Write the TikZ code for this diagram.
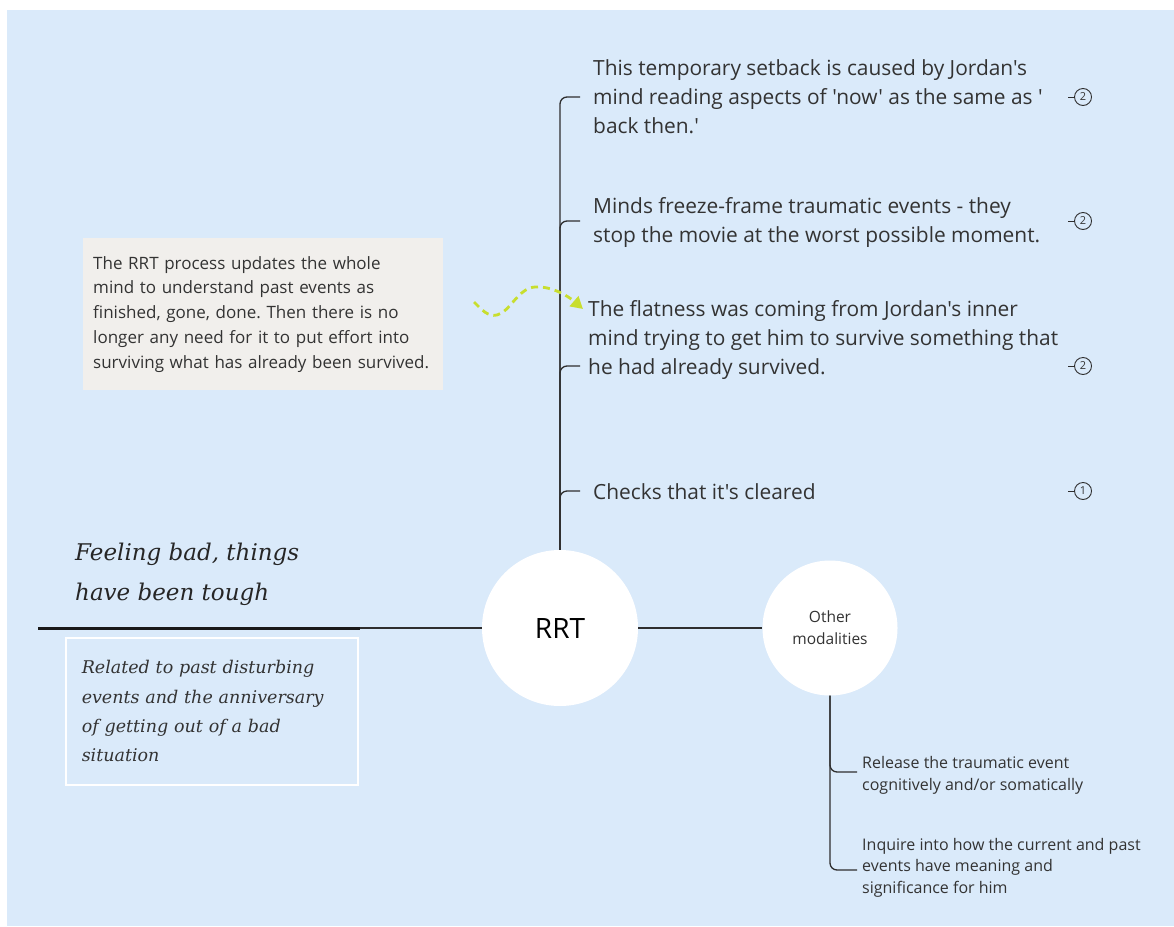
\documentclass[tikz,border=0pt]{standalone}
\usepackage{fontspec}
\setmainfont{Open Sans}[Ligatures=TeXOff]
\newfontfamily\serifit{DejaVu Serif}[Ligatures=TeXOff]
\usetikzlibrary{arrows.meta}
\frenchspacing
\definecolor{bgblue}{HTML}{DAEAFA}
\definecolor{linecol}{HTML}{2E2E2E}
\definecolor{txt}{HTML}{333333}
\definecolor{notefill}{HTML}{F1EFEC}
\definecolor{arrowgreen}{HTML}{C8DE2E}
\tikzset{
  topic/.style={anchor=base west, inner sep=0, align=left, text=txt, font=\fontsize{20.9}{29}\selectfont},
  subtopic/.style={anchor=base west, inner sep=0, align=left, text=txt, font=\fontsize{16}{21.5}\selectfont},
  badge/.style={circle, draw=linecol, line width=0.9, minimum size=17, inner sep=0, text=txt, font=\fontsize{11}{11}\selectfont},
  branch/.style={draw=linecol, line width=1.3, rounded corners=7},
  hub/.style={circle, fill=white, inner sep=0, align=center},
}
\begin{document}
\begin{tikzpicture}[x=1pt,y=-1pt]
\useasboundingbox (0,0) rectangle (1174,926);
\fill[white] (0,0) rectangle (1174,926);
\fill[bgblue] (7,10) rectangle (1174,926);

% hubs
\node[hub, minimum size=156, font=\fontsize{28}{28}\selectfont] (rrt) at (560,628) {RRT};
\node[hub, minimum size=135, text=txt, font=\fontsize{15.5}{22}\selectfont] (om) at (830,628) {Other\\modalities};

% topics (base = last line's baseline)
\node[topic] (t1) at (593,133) {This temporary setback is caused by Jordan's\\mind reading aspects of 'now' as the same as '\\back then.'};
\node[topic] (t2) at (593,242) {Minds freeze-frame traumatic events - they\\stop the movie at the worst possible moment.};
\node[topic] (t3) at (588,374) {The flatness was coming from Jordan's inner\\mind trying to get him to survive something that\\he had already survived.};
\node[topic] (t4) at (593,499) {Checks that it's cleared};

\coordinate (e1) at (580,97);
\coordinate (e2) at (580,221);
\coordinate (e3) at (580,366);
\coordinate (e4) at (580,491);
\foreach \e in {e1,e2,e3,e4} \draw[branch] (rrt.north) |- (\e);

% badges
\node[badge] (b1) at (1083,97) {2};
\node[badge] (b2) at (1083,221) {2};
\node[badge] (b3) at (1083,366) {2};
\node[badge] (b4) at (1083,491) {1};
\foreach \b in {b1,b2,b3,b4} \draw[linecol, line width=0.9] (\b.west) -- ++(-6,0);

% note
\node[anchor=north west, fill=notefill, inner xsep=10, inner ysep=0, text width=340, minimum height=152,
      align=left, text=txt, font=\fontsize{17}{24.7}\selectfont] (note) at (83,238)
  {The RRT process updates the whole\\mind to understand past events as\\finished, gone, done. Then there is no\\longer any need for it to put effort into\\surviving what has already been survived.};

\coordinate (ws) at (474,302);
\coordinate (we) at (583,309);
\draw[arrowgreen, line width=2.8, dash pattern=on 7 off 5, -{Triangle[length=12,width=13]}]
  (ws) .. controls (482,310) and (488,317) .. (497,315)
       .. controls (510,312) and (518,288) .. (535,287)
       .. controls (552,286) and (568,296) .. (we);

% left side
\coordinate (lend) at (38,628);
\coordinate (tend) at (360,628);
\draw[linecol, line width=1.2] (rrt.west) -- (lend);
\draw[black!90, line width=3] (lend) -- (tend);
\node[anchor=base west, inner sep=0, align=left, text=black!85, font=\serifit\itshape\fontsize{23}{40}\selectfont] (feel) at (75,600)
  {Feeling bad, things\\have been tough};
\node[anchor=north west, draw=white, line width=1.5, inner xsep=16, inner ysep=0, text width=260, minimum height=147,
      align=left, text=txt, font=\serifit\itshape\fontsize{17.5}{29.3}\selectfont] (rel) at (65,637)
  {Related to past disturbing\\events and the anniversary\\of getting out of a bad\\situation};

% other modalities
\draw[linecol, line width=1.3] (rrt.east) -- (om.west);
\node[subtopic] (s1) at (862,790) {Release the traumatic event\\cognitively and/or somatically};
\node[subtopic] (s2) at (862,893) {Inquire into how the current and past\\events have meaning and\\significance for him};
\coordinate (f1) at (857,772);
\coordinate (f2) at (857,870);
\draw[branch] (om.south) |- (f1);
\draw[branch] (om.south) |- (f2);
\end{tikzpicture}
\end{document}
